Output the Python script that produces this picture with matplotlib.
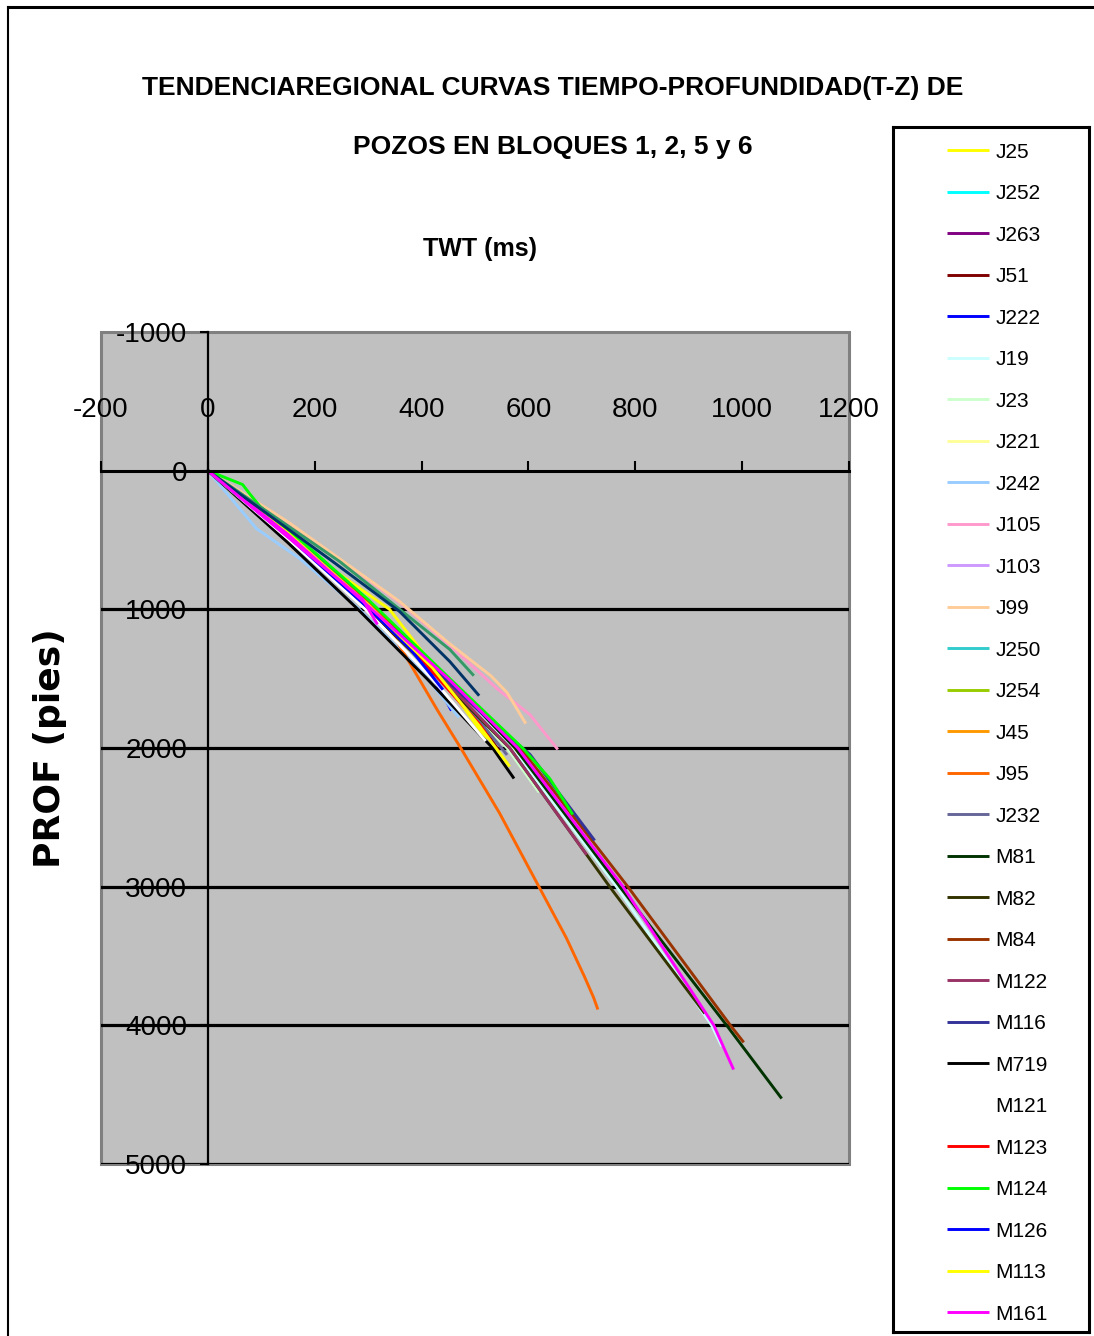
import matplotlib
matplotlib.use("Agg")
import matplotlib.pyplot as plt
from matplotlib import font_manager as fm
from matplotlib.lines import Line2D
from matplotlib.patches import Rectangle

# Curvas tiempo-profundidad: (TWT ms, profundidad pies) por pozo
J25 = ([0, 100, 200, 340, 440, 522], [0, 300, 620, 1000, 1500, 1940])
J252 = ([0, 150, 300, 400], [0, 440, 950, 1380])
J263 = ([0, 150, 300, 450, 500], [0, 455, 975, 1560, 1780])
J51 = ([0, 150, 300, 485, 545], [0, 460, 985, 1690, 2020])
J222 = ([0, 150, 300, 378, 420, 456], [0, 470, 980, 1254, 1480, 1730])
J19 = ([0, 150, 300, 450, 570, 765, 943, 962], [0, 455, 980, 1530, 2000, 3000, 4000, 4152])
J23 = ([0, 150, 300, 450, 560, 620], [0, 465, 995, 1560, 2000, 2320])
J221 = ([0, 150, 300, 420, 500], [0, 450, 960, 1420, 1800])
J242 = ([0, 44, 91, 172, 281, 400, 470], [0, 202, 418, 634, 990, 1450, 1780])
J105 = ([0, 150, 359, 450, 541, 603, 655], [0, 375, 950, 1250, 1571, 1760, 2011])
J103 = ([0, 150, 300, 420], [0, 445, 950, 1440])
J99 = ([0, 150, 359, 450, 530, 560, 595], [0, 370, 944, 1240, 1480, 1600, 1824])
J250 = ([0, 150, 300, 420, 480], [0, 440, 940, 1390, 1650])
J254 = ([0, 150, 300, 450, 520], [0, 445, 950, 1520, 1850])
J45 = ([0, 150, 300, 450, 541, 584], [0, 460, 960, 1550, 1831, 2047])
J95 = ([0, 150, 300, 330, 360, 429, 475, 546, 621, 671, 705, 722, 730],
       [0, 470, 960, 1090, 1270, 1723, 2011, 2470, 3010, 3370, 3650, 3800, 3886])
J232 = ([0, 150, 300, 450, 560], [0, 450, 960, 1530, 2050])
M81 = ([0, 150, 300, 450, 575, 771, 971, 1074], [0, 450, 960, 1500, 2000, 3000, 4000, 4528])
M82 = ([0, 150, 300, 450, 565, 752, 930], [0, 470, 1000, 1560, 2000, 3000, 3914])
M84 = ([0, 150, 300, 450, 585, 786, 978, 1003], [0, 455, 975, 1500, 2000, 3000, 4000, 4123])
M122 = ([0, 150, 300, 450, 565, 709], [0, 460, 990, 1540, 2000, 2770])
M116 = ([0, 150, 300, 400, 509, 603, 724], [0, 440, 950, 1340, 1737, 2047, 2667])
M719 = ([0, 150, 281, 410, 533, 573], [0, 520, 1000, 1500, 2000, 2220])
M121 = ([0, 150, 295, 420, 520], [0, 490, 1000, 1500, 1950])
M123 = ([0, 150, 316, 420, 509, 530], [0, 470, 1000, 1450, 1831, 1950])
M124 = ([0, 65, 79, 98, 200, 300, 453, 590, 640, 683],
        [0, 100, 170, 260, 590, 930, 1500, 2004, 2221, 2480])
M126 = ([0, 150, 300, 380, 440], [0, 475, 990, 1290, 1580])
M113 = ([0, 150, 300, 420, 510, 565], [0, 450, 965, 1420, 1850, 2134])
M161 = ([0, 150, 300, 450, 580, 777, 947, 984], [0, 460, 975, 1500, 2000, 3000, 4000, 4319])

# series sin entrada en la leyenda
extra_verde = ([0, 247, 341, 453, 496], [0, 656, 944, 1290, 1471])
extra_azul = ([0, 234, 359, 453, 506], [0, 656, 1016, 1377, 1615])
extra_magenta = ([0, 150, 290, 316], [0, 480, 930, 1100])

pozos = [
    ("J25", J25, "#FFFF00"), ("J252", J252, "#00FFFF"), ("J263", J263, "#800080"),
    ("J51", J51, "#800000"), ("J222", J222, "#0000FF"), ("J19", J19, "#CCFFFF"),
    ("J23", J23, "#CCFFCC"), ("J221", J221, "#FFFF99"), ("J242", J242, "#99CCFF"),
    ("J105", J105, "#FF99CC"), ("J103", J103, "#CC99FF"), ("J99", J99, "#FFCC99"),
    ("J250", J250, "#33CCCC"), ("J254", J254, "#99CC00"), ("J45", J45, "#FF9900"),
    ("J95", J95, "#FF6600"), ("J232", J232, "#666699"), ("M81", M81, "#003300"),
    ("M82", M82, "#333300"), ("M84", M84, "#993300"), ("M122", M122, "#993366"),
    ("M116", M116, "#333399"), ("M719", M719, "#000000"), ("M121", M121, "#FFFFFF"),
    ("M123", M123, "#FF0000"), ("M124", M124, "#00FF00"), ("M126", M126, "#0000FF"),
    ("M113", M113, "#FFFF00"), ("M161", M161, "#FF00FF"),
]
extras = [(extra_verde, "#339966"), (extra_azul, "#003366"), (extra_magenta, "#FF00FF")]

xticks = [-200, 0, 200, 400, 600, 800, 1000, 1200]
yticks = [-1000, 0, 1000, 2000, 3000, 4000, 5000]
grid_prof = [1000, 2000, 3000, 4000, 5000]


def have_font(name):
    try:
        fm.findfont(fm.FontProperties(family=name), fallback_to_default=False)
        return True
    except ValueError:
        return False


if have_font("Liberation Sans Narrow"):
    narrow, k = "Liberation Sans Narrow", 1.2
else:
    narrow, k = "Liberation Sans", 1.0

plt.rcParams["axes.unicode_minus"] = False

W, H = 1094, 1336
fig = plt.figure(figsize=(W / 100, H / 100), dpi=100)
fig.patch.set_facecolor("white")

ax = fig.add_axes([101 / W, 1 - 1164 / H, 748 / W, 832 / H])
ax.set_facecolor("#C0C0C0")
ax.set_xlim(-200, 1200)
ax.set_ylim(5000, -1000)

for nombre, (t, d), c in pozos:
    ax.plot(t, d, color=c, lw=2.1, label=nombre, solid_capstyle="butt",
            solid_joinstyle="round")
for (t, d), c in extras:
    ax.plot(t, d, color=c, lw=2.1, solid_joinstyle="round")

for p in grid_prof:
    ax.axhline(p, color="black", lw=2.3, zorder=1)

# ejes cruzando en (0, 0)
ax.spines["right"].set_visible(False)
ax.spines["bottom"].set_visible(False)
ax.spines["top"].set_position(("data", 0))
ax.spines["left"].set_position(("data", 0))
ax.spines["top"].set_linewidth(2.2)
ax.spines["left"].set_linewidth(1.6)
ax.add_patch(Rectangle((0, 0), 1, 1, transform=ax.transAxes, fill=False,
                       edgecolor="#808080", lw=2.2, zorder=0.5, clip_on=False))

ax.xaxis.set_ticks_position("top")
ax.set_xticks(xticks)
ax.set_yticks(yticks)
ax.tick_params(axis="x", direction="out", length=7, width=1.5, pad=27,
               labelsize=20 * k)
ax.tick_params(axis="y", direction="out", length=6, width=1.5, pad=9,
               labelsize=20 * k)
for lab in ax.get_xticklabels() + ax.get_yticklabels():
    lab.set_family(narrow)

ax.set_ylabel("PROF (pies)", family="DejaVu Sans", fontweight="bold",
              fontsize=26, labelpad=0)
ax.yaxis.set_label_coords(-0.045, 0.5)

fig.text(553 / W, 1 - 88 / H, "TENDENCIAREGIONAL CURVAS TIEMPO-PROFUNDIDAD(T-Z) DE",
         ha="center", va="center", family=narrow, fontweight="bold", fontsize=19 * k)
fig.text(553 / W, 1 - 147 / H, "POZOS EN BLOQUES 1, 2, 5 y 6",
         ha="center", va="center", family=narrow, fontweight="bold", fontsize=19 * k)
fig.text(480 / W, 1 - 249 / H, "TWT (ms)", ha="center", va="center",
         family=narrow, fontweight="bold", fontsize=18 * k)

# caja de la leyenda
lax = fig.add_axes([893 / W, 1 - 1332 / H, 196 / W, 1205 / H])
lax.set_xticks([])
lax.set_yticks([])
for s in lax.spines.values():
    s.set_linewidth(2.2)
    s.set_color("black")
handles, labels = ax.get_legend_handles_labels()
leg = lax.legend(handles, labels, loc="upper left", bbox_to_anchor=(0.234, 0.994),
                 frameon=False, prop={"family": narrow, "size": 15 * k},
                 handlelength=2.0, handletextpad=0.3, labelspacing=1.08,
                 borderaxespad=0)

# borde del área del gráfico
fig.add_artist(Line2D([8 / W, 1], [1 - 7 / H, 1 - 7 / H], color="black", lw=2.2))
fig.add_artist(Line2D([8 / W, 8 / W], [0, 1 - 7 / H], color="black", lw=1.5))

fig.savefig("out.png", dpi=100)
